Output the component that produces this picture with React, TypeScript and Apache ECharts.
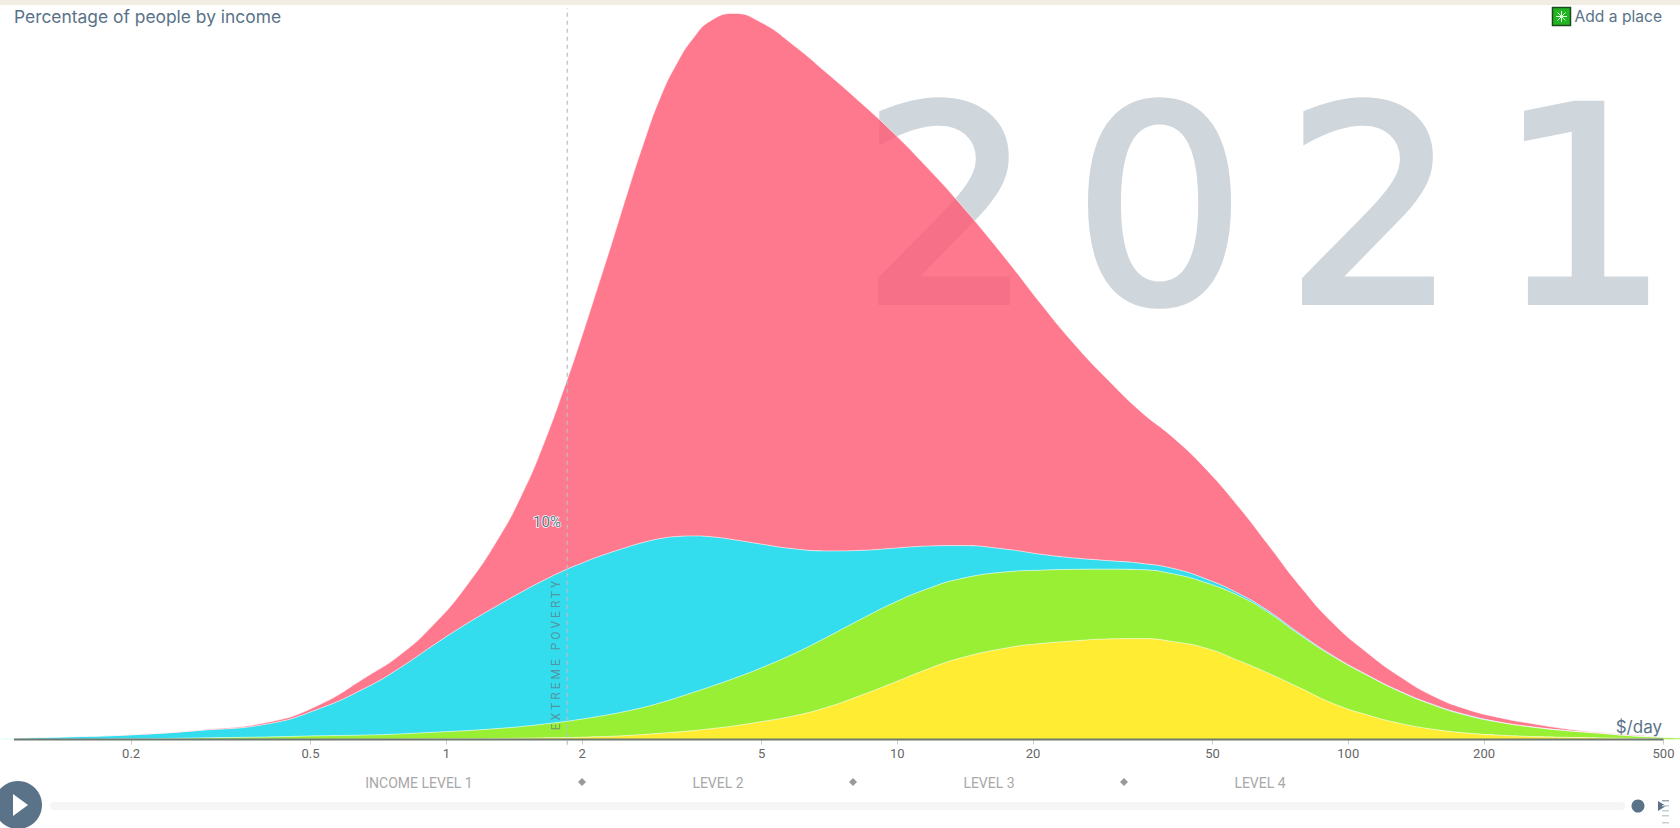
import React, { useEffect, useRef } from "react";
import * as echarts from "echarts";

const income = [0.1024, 0.11, 0.1466, 0.2, 0.285, 0.401, 0.517, 0.668, 0.79, 0.936, 1.113, 1.317, 1.459, 1.616, 1.852, 1.982, 2.12, 2.35, 2.515, 2.74, 2.98, 3.25, 3.53, 3.85, 4.34, 4.97, 5.89, 6.98, 8.28, 9.81, 11.64, 13.8, 17.5, 20.75, 24.6, 29.2, 34.6, 41, 48.6, 57.6, 66, 78.3, 92.7, 110, 130.4, 154.6, 183, 217, 257, 305, 362, 428.6, 500, 544];
// upper edge of each band
const topLevel1 = [0.5, 1, 2.5, 4.5, 8.9, 16, 31.5, 59, 79, 107, 144.5, 190.7, 225.7, 268, 335.5, 372, 410, 469, 509, 557, 599, 631.6, 654.8, 670.7, 677.7, 669.7, 648, 622, 594.7, 566, 534, 499.7, 447.4, 407.4, 369.8, 336.4, 306.4, 281.4, 251.4, 215.4, 183.4, 142.8, 108.2, 81.2, 58.5, 40.4, 28.3, 20.3, 14.7, 9.9, 6.6, 4.2, 2.4, 1.5];
const topLevel2 = [0.5, 1, 2.5, 4.3, 8.5, 14.5, 28, 49, 67, 88, 108.4, 126.5, 137, 147, 159, 164, 169, 175.5, 179.5, 184, 187.5, 189.5, 190, 189.3, 186.5, 182.5, 178, 176, 176.5, 178.5, 180.5, 181, 177.5, 173, 169.5, 167, 164.5, 159.5, 149.5, 135.5, 121, 98.5, 78, 60.5, 45, 32.5, 23, 16.2, 11.7, 8.4, 5.9, 3.4, 2.1, 1.5];
const topLevel3 = [0.1, 0.2, 0.4, 0.6, 1.5, 2.4, 3.4, 4.2, 5.2, 6.7, 8.3, 10.4, 12, 14, 17, 18.8, 20.8, 24, 26.5, 30, 34.2, 39, 44, 49.3, 57, 66.5, 80, 95.5, 112, 127.5, 140.5, 150, 156.5, 158, 158.8, 159, 158.5, 154.5, 146, 133.5, 119.5, 97.3, 77.3, 60, 44.5, 32, 22.5, 16, 11.5, 8.2, 5.8, 3.3, 2, 1.5];
const topLevel4 = [0, 0, 0, 0, 0.1, 0.2, 0.3, 0.4, 0.5, 0.6, 0.7, 1, 1.2, 1.5, 1.8, 2.1, 2.5, 3.1, 3.7, 4.7, 5.8, 7, 8.3, 10, 12.7, 16.5, 22, 30, 41, 53, 65.5, 76, 85.5, 89.5, 92, 93.8, 94.2, 91.3, 85, 73, 62.5, 48, 33.5, 23, 15, 9.5, 6, 4, 2.8, 2, 1.5, 1, 0.3, 0];
const tickValues = [0.2, 0.5, 1, 2, 5, 10, 20, 50, 100, 200, 500];
const povertyLine = [[1.855, -5], [1.855, 682.5]];
const baseLine = [[0.11, 0], [500, 0]];
const levelLabels = [
  { text: "INCOME LEVEL 1", x: 419 },
  { text: "LEVEL 2", x: 718 },
  { text: "LEVEL 3", x: 989 },
  { text: "LEVEL 4", x: 1260 },
];
const levelDiamonds = [582, 853, 1124];
const year = "2021";

const slate = "#5a7389";

function layer(name: string, top: number[], below: number[] | null, color: string) {
  return {
    name,
    type: "line",
    stack: "people",
    data: income.map((x, i) => [top[i] - (below ? below[i] : 0), x]),
    encode: { x: 1, y: 0 },
    smooth: 0.5,
    showSymbol: false,
    symbol: "none",
    clip: false,
    lineStyle: { color: "#ffffff", width: 1, opacity: 0.55 },
    areaStyle: { color, opacity: 0.8 },
    silent: true,
    z: 3,
  };
}

export default function App() {
  const ref = useRef<HTMLDivElement>(null);
  useEffect(() => {
    const chart = echarts.init(ref.current!, null, { renderer: "svg" });
    chart.setOption({
      animation: false,
      backgroundColor: "#ffffff",
      grid: { left: 0, right: 0, top: 0, height: 739.5, containLabel: false },
      xAxis: {
        type: "log",
        logBase: 10,
        min: 0.1024,
        max: 544,
        splitLine: { show: false },
        minorTick: { show: false },
        axisLine: { show: true, onZero: true, lineStyle: { opacity: 0 } },
        axisTick: { show: true, length: 5, lineStyle: { color: "#cccccc" }, customValues: tickValues },
        axisLabel: {
          show: true,
          margin: 7,
          fontFamily: "Roboto",
          fontSize: 13,
          color: "#666666",
          customValues: tickValues,
          formatter: (v: number) => String(v),
        },
      },
      yAxis: { type: "value", min: 0, max: 690.2, show: false, splitLine: { show: false } },
      series: [
        layer("Level 4", topLevel4, null, "#ffe700"),
        layer("Level 3", topLevel3, topLevel4, "#7feb00"),
        layer("Level 2", topLevel2, topLevel3, "#00d5e9"),
        layer("Level 1", topLevel1, topLevel2, "#ff5872"),
        {
          name: "Extreme poverty",
          type: "line",
          data: povertyLine,
          symbol: "none",
          silent: true,
          clip: false,
          z: 5,
          lineStyle: { color: "#b8bec2", width: 1.5, type: [4, 4], opacity: 0.85 },
        },
        {
          name: "Axis",
          type: "line",
          data: baseLine,
          symbol: "none",
          silent: true,
          clip: false,
          z: 6,
          lineStyle: { color: "#6f7a70", width: 2 },
        },
      ],
      graphic: [
        { type: "rect", z: 50, shape: { x: 0, y: 0, width: 1680, height: 5 }, style: { fill: "#f2ede2" } },
        {
          type: "text", z: -1, x: 861, y: 208,
          style: { text: year, font: '272px "DejaVu Sans"', fill: "#cfd6dc", stroke: "#cfd6dc", lineWidth: 6, lineJoin: "round", textAlign: "left", textVerticalAlign: "middle" },
        },
        { type: "text", z: 50, x: 14, y: 16, style: { text: "Percentage of people by income", font: '17.4px "Inter"', fill: slate, textAlign: "left", textVerticalAlign: "middle" } },
        { type: "rect", z: 50, shape: { x: 1552.5, y: 7.5, width: 18, height: 18 }, style: { fill: "#22b322", stroke: "#1c4a1c", lineWidth: 1.5 } },
        { type: "line", z: 51, shape: { x1: 1561.5, y1: 11, x2: 1561.5, y2: 22 }, style: { stroke: "#d8ffd8", lineWidth: 1 } },
        { type: "line", z: 51, shape: { x1: 1556, y1: 16.5, x2: 1567, y2: 16.5 }, style: { stroke: "#d8ffd8", lineWidth: 1 } },
        { type: "line", z: 51, shape: { x1: 1557.5, y1: 12.5, x2: 1565.5, y2: 20.5 }, style: { stroke: "#d8ffd8", lineWidth: 1 } },
        { type: "line", z: 51, shape: { x1: 1565.5, y1: 12.5, x2: 1557.5, y2: 20.5 }, style: { stroke: "#d8ffd8", lineWidth: 1 } },
        { type: "text", z: 50, x: 1662, y: 16, style: { text: "Add a place", font: '15.6px "Inter"', fill: slate, textAlign: "right", textVerticalAlign: "middle" } },
        { type: "text", z: 50, x: 1662, y: 727, style: { text: "$/day", font: '17px "Inter"', fill: slate, textAlign: "right", textVerticalAlign: "middle" } },
        { type: "text", z: 50, x: 547, y: 522, style: { text: "10%", font: '15px "Roboto"', fill: slate, stroke: "#ffffff", lineWidth: 1.5, textAlign: "center", textVerticalAlign: "middle" } },
        {
          type: "text", z: 50, x: 556, y: 654, rotation: Math.PI / 2,
          style: { text: "EXTREME POVERTY", font: '12px "Roboto"', fill: "#5f7480", opacity: 0.7, textAlign: "center", textVerticalAlign: "middle" },
        },
        ...levelLabels.map((l) => ({
          type: "text", z: 50, x: l.x, y: 783,
          style: { text: l.text, font: '14px "Roboto"', fill: "#a8a8a8", textAlign: "center", textVerticalAlign: "middle" },
        })),
        ...levelDiamonds.map((x) => ({
          type: "polygon", z: 50,
          shape: { points: [[x, 778], [x + 4, 782], [x, 786], [x - 4, 782]] },
          style: { fill: "#999999" },
        })),
        { type: "circle", z: 50, shape: { cx: 18, cy: 805, r: 24 }, style: { fill: slate } },
        { type: "polygon", z: 51, shape: { points: [[13, 794], [28, 805], [13, 816]] }, style: { fill: "#ffffff" } },
        { type: "rect", z: 50, shape: { x: 50, y: 802, width: 1575, height: 8, r: 4 }, style: { fill: "#f5f5f5" } },
        { type: "circle", z: 51, shape: { cx: 1638, cy: 806, r: 6.5 }, style: { fill: slate } },
        { type: "polygon", z: 51, shape: { points: [[1658, 801], [1666, 806], [1658, 811]] }, style: { fill: slate } },
        { type: "rect", z: 51, shape: { x: 1662, y: 800, width: 7, height: 1.5 }, style: { fill: "#9aa8b3" } },
        { type: "rect", z: 51, shape: { x: 1662, y: 805, width: 7, height: 1.5 }, style: { fill: "#c5ced5" } },
        { type: "rect", z: 51, shape: { x: 1662, y: 810, width: 7, height: 1.5 }, style: { fill: "#c5ced5" } },
        { type: "rect", z: 51, shape: { x: 1662, y: 815, width: 7, height: 1.5 }, style: { fill: "#c5ced5" } },
        { type: "rect", z: 51, shape: { x: 1662, y: 822, width: 7, height: 1.5 }, style: { fill: "#c5ced5" } },
      ],
    });
    return () => chart.dispose();
  }, []);
  return (
    <>
      <style>{`body{margin:0;overflow:hidden} text[style*="272px"]{letter-spacing:39px} text[style*="12px"]{letter-spacing:3px}`}</style>
      <div ref={ref} style={{ width: 1680, height: 828 }} />
    </>
  );
}
